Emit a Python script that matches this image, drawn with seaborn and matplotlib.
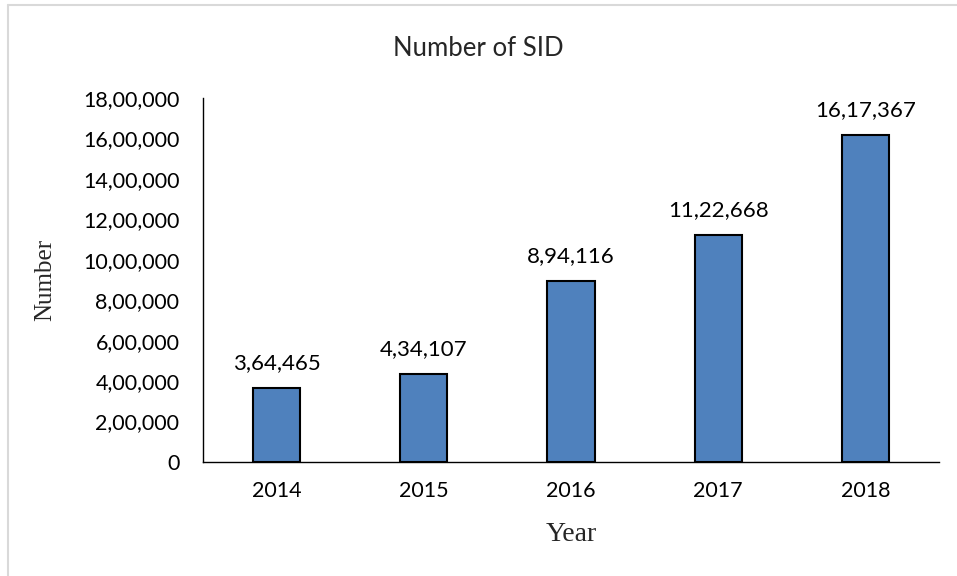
import matplotlib
matplotlib.use("Agg")
import matplotlib.pyplot as plt
import seaborn as sns
import pandas as pd
from matplotlib.ticker import FuncFormatter, MultipleLocator
from matplotlib.lines import Line2D

years = ["2014", "2015", "2016", "2017", "2018"]
values = [364465, 434107, 894116, 1122668, 1617367]

def indian(n):
    n = int(round(n))
    s = str(n)
    if len(s) <= 3:
        return s
    last3 = s[-3:]
    rest = s[:-3]
    parts = []
    while len(rest) > 2:
        parts.insert(0, rest[-2:])
        rest = rest[:-2]
    if rest:
        parts.insert(0, rest)
    return ",".join(parts + [last3])

sns.set_theme(style="white")
plt.rcParams['font.family'] = ['Lato', 'DejaVu Sans']

df = pd.DataFrame({"Year": years, "Number": values})

fig = plt.figure(figsize=(9.57, 5.76), dpi=100)
ax = fig.add_axes([203/957, 1-462/576, (939-203)/957, (462-98)/576])

sns.barplot(data=df, x="Year", y="Number", color="#4F81BD", width=0.32,
            edgecolor="black", linewidth=1.5, saturation=1, ax=ax)

ax.set_ylim(0, 1800000)
ax.yaxis.set_major_locator(MultipleLocator(200000))
ax.yaxis.set_major_formatter(FuncFormatter(lambda v, p: indian(v)))
ax.set_xlim(-0.5, 4.5)
ax.tick_params(axis='both', length=0, labelsize=15.5, colors="black")
ax.tick_params(axis='x', pad=14)
ax.tick_params(axis='y', pad=17)
for s in ["top", "right"]:
    ax.spines[s].set_visible(False)
for s in ["left", "bottom"]:
    ax.spines[s].set_color("black")
    ax.spines[s].set_linewidth(1.0)

for i, v in enumerate(values):
    ax.annotate(indian(v), (i, v), xytext=(0, 11), textcoords="offset points",
                ha="center", va="bottom", fontsize=16, color="black")

ax.set_xlabel("Year", family="Liberation Serif", fontsize=20)
ax.set_ylabel("Number", family="Liberation Serif", fontsize=18)
ax.xaxis.set_label_coords(0.5, -0.165)
ax.yaxis.set_label_coords(-0.199, 0.5)

fig.text(0.5, 1-49/576, "Number of SID", ha="center", va="center", fontsize=18.5)

# light figure border (top and left)
fig.add_artist(Line2D([8/957, 1], [1-5/576, 1-5/576], transform=fig.transFigure,
                      color="#d9d9d9", lw=1.5))
fig.add_artist(Line2D([8/957, 8/957], [0, 1-5/576], transform=fig.transFigure,
                      color="#d9d9d9", lw=1.5))

fig.savefig("out.png", dpi=100)
